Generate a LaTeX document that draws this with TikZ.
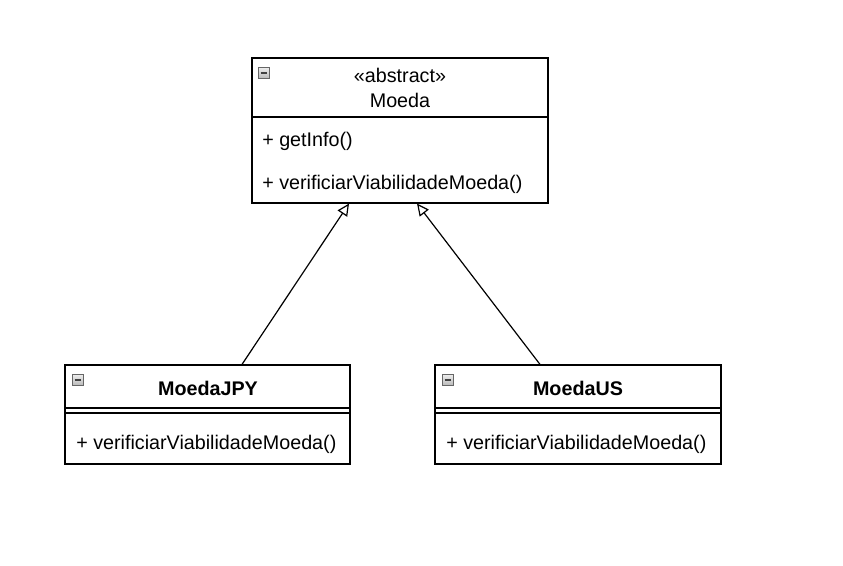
\documentclass[tikz,border=0pt]{standalone}
\usepackage{fontspec}
\setmainfont{Liberation Sans}
\usetikzlibrary{arrows.meta,calc}
\begin{document}
\begin{tikzpicture}[x=0.75pt,y=-0.75pt,
  classbox/.style={draw,line width=0.9pt,rectangle,inner sep=0pt},
  txt/.style={font=\fontsize{14.8pt}{16pt}\selectfont,inner sep=0pt,anchor=west},
  ttl/.style={font=\fontsize{14.8pt}{16pt}\selectfont,inner sep=0pt},
  ttlb/.style={font=\fontsize{14.8pt}{16pt}\selectfont\bfseries,inner sep=0pt},
  inh/.style={line width=0.9pt,-{Triangle[open,length=9pt,width=8.5pt]}},
  minusicon/.style={draw=gray!80!black,line width=0.4pt,top color=gray!15,bottom color=gray!55,minimum size=8pt,inner sep=0pt,rectangle,
    path picture={\draw[line width=1.1pt,black!75] ([xshift=1.4pt]path picture bounding box.west) -- ([xshift=-1.4pt]path picture bounding box.east);}}
]
\useasboundingbox (0,0) rectangle (843,566);
\fill[white] (0,0) rectangle (843,566);

% Moeda
\node[classbox,minimum width=222pt,minimum height=108.75pt] (moeda) at (400,130.5) {};
\draw[line width=0.9pt] (252,117) -- (548,117);
\node[minusicon] (im) at (264,73) {};
\node[ttl] (ab) at (400,75) {«abstract»};
\node[ttl] (mn) at (400,100) {Moeda};
\node[txt] (m1) at (262,141) {+ getInfo()};
\node[txt] (m2) at (262,184) {+ verificiarViabilidadeMoeda()};

% MoedaJPY
\node[classbox,minimum width=213.75pt,minimum height=74.25pt] (jpy) at (207.5,414.5) {};
\draw[line width=0.9pt] (65,408) -- (350,408);
\draw[line width=0.9pt] (65,413) -- (350,413);
\node[minusicon] (ij) at (78,380) {};
\node[ttlb] (jt) at (208,388) {MoedaJPY};
\node[txt] (j1) at (76,444) {+ verificiarViabilidadeMoeda()};

% MoedaUS
\node[classbox,minimum width=214.5pt,minimum height=74.25pt] (us) at (578,414.5) {};
\draw[line width=0.9pt] (435,408) -- (721,408);
\draw[line width=0.9pt] (435,413) -- (721,413);
\node[minusicon] (iu) at (448,380) {};
\node[ttlb] (ut) at (578,388) {MoedaUS};
\node[txt] (u1) at (446,444) {+ verificiarViabilidadeMoeda()};

% inheritance
\draw[inh] ([xshift=25.9pt]jpy.north) -- ([xshift=-38.25pt]moeda.south);
\draw[inh] ([xshift=-28.5pt]us.north) -- ([xshift=12.75pt]moeda.south);
\end{tikzpicture}
\end{document}
